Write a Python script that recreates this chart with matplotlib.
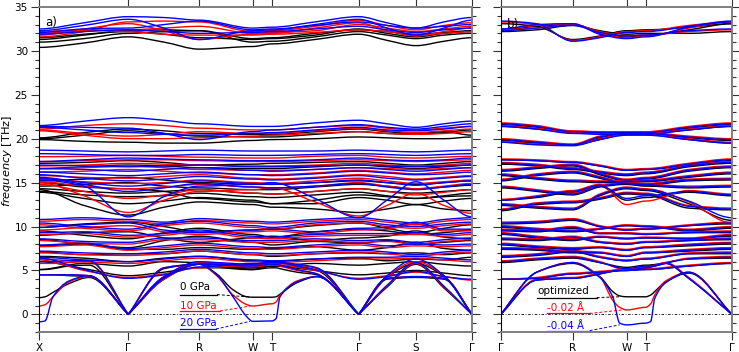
import numpy as np
import matplotlib
matplotlib.use('Agg')
import matplotlib.pyplot as plt
from matplotlib.path import Path
from matplotlib.patches import PathPatch
from matplotlib.ticker import MultipleLocator

# ---------------- panel a: X-G-R-W-T-G-S-G ----------------
kA = [0, 45, 89.3, 125, 160.3, 213.7, 233, 276, 319.7, 348, 377, 405, 433]
symA = [1, 0, 1, 0, 1, 1, 1, 0, 1, 0, 1, 0, 1]
labelsA = ['X', 'Γ', 'R', 'W', 'T', 'Γ', 'S', 'Γ']

a_black = [
    [30.4, 30.9, 31.6, 31.0, 30.2, 30.5, 30.8, 31.3, 31.9, 31.2, 30.6, 31.1, 31.5],
    [31.0, 31.4, 32.0, 32.2, 32.3, 31.0, 31.1, 31.6, 32.2, 31.8, 31.4, 31.8, 32.0],
    [31.3, 31.8, 32.3, 32.4, 32.3, 31.4, 31.5, 32.0, 32.4, 32.2, 31.9, 32.1, 32.3],
    [31.5, 31.9, 32.2, 31.9, 31.5, 31.3, 31.4, 31.8, 32.5, 32.0, 31.6, 32.0, 32.2],
    [20.0, 20.4, 20.9, 20.6, 20.3, 20.2, 20.2, 20.5, 20.8, 20.6, 20.5, 20.7, 21.0],
    [19.9, 19.7, 19.6, 19.5, 19.5, 19.8, 19.9, 20.0, 20.2, 20.1, 20.0, 20.0, 20.2],
    [20.1, 20.7, 21.1, 20.9, 20.6, 20.5, 20.5, 20.8, 21.1, 20.8, 20.6, 20.8, 20.4],
    [17.2, 17.3, 17.5, 17.3, 17.0, 17.1, 17.2, 17.3, 17.4, 17.2, 17.0, 17.2, 17.4],
    [16.6, 16.8, 17.0, 16.9, 16.7, 16.6, 16.6, 16.8, 17.0, 16.8, 16.6, 16.8, 17.0],
    [15.2, 15.4, 15.6, 15.3, 15.0, 14.8, 14.8, 15.0, 15.2, 15.0, 14.8, 15.0, 15.2],
    [14.6, 14.8, 15.0, 14.6, 14.4, 14.2, 14.2, 14.5, 14.8, 14.6, 14.3, 14.5, 14.7],
    [14.3, 14.0, 13.8, 14.0, 14.2, 13.8, 13.7, 14.0, 14.3, 14.0, 13.8, 14.0, 14.2],
    [14.0, 13.6, 13.4, 13.5, 13.8, 13.4, 13.3, 13.6, 13.9, 13.5, 13.2, 13.5, 13.8],
    [13.9, 13.2, 12.6, 12.9, 13.3, 13.0, 12.6, 12.6, 13.3, 13.0, 12.5, 12.9, 13.2],
    [14.2, 12.4, 11.3, 12.2, 12.8, 12.5, 12.2, 12.0, 11.6, 12.0, 12.5, 12.0, 11.8],
    [15.0, 14.5, 14.3, 14.0, 13.2, 12.8, 12.6, 13.0, 13.6, 13.4, 13.2, 13.4, 13.5],
    [9.9, 10.3, 10.5, 10.0, 9.4, 9.6, 9.7, 10.1, 10.4, 9.8, 9.3, 9.8, 10.2],
    [9.5, 9.0, 8.6, 9.3, 9.8, 9.1, 8.8, 9.4, 9.7, 9.5, 9.1, 9.3, 9.6],
    [9.0, 9.3, 9.4, 8.7, 8.2, 8.7, 8.9, 8.4, 8.7, 8.9, 9.5, 8.8, 8.6],
    [8.5, 8.0, 7.6, 8.4, 8.9, 8.2, 7.9, 8.3, 8.1, 8.4, 8.0, 8.2, 8.4],
    [7.8, 8.0, 7.4, 7.4, 7.6, 7.4, 7.5, 7.7, 7.3, 7.6, 8.2, 7.5, 7.3],
    [7.1, 6.8, 6.9, 6.9, 7.2, 6.8, 6.6, 6.9, 7.0, 6.9, 7.0, 6.8, 7.0],
    [6.6, 6.4, 6.0, 6.4, 6.6, 6.1, 6.0, 6.3, 6.4, 6.1, 6.3, 6.2, 6.5],
    [5.1, 5.8, 5.5, 6.0, 5.9, 5.1, 5.5, 5.8, 5.6, 5.8, 6.0, 5.7, 5.5],
    [6.0, 5.2, 4.4, 4.8, 5.3, 5.3, 5.5, 5.0, 4.5, 4.7, 5.0, 4.7, 4.4],
]
a_red = [
    [31.6, 32.2, 33.3, 33.4, 33.3, 32.2, 32.3, 32.8, 33.5, 32.9, 32.4, 32.9, 33.2],
    [31.8, 32.5, 33.1, 32.3, 31.3, 31.9, 32.0, 32.6, 33.2, 32.3, 31.7, 32.2, 32.6],
    [32.0, 32.3, 32.4, 32.6, 32.8, 32.0, 32.1, 32.3, 33.0, 32.6, 32.2, 32.5, 32.8],
    [32.2, 32.4, 32.2, 31.9, 31.8, 31.8, 31.9, 32.1, 32.4, 32.2, 31.8, 32.0, 32.2],
    [21.1, 21.5, 21.7, 21.5, 21.2, 21.0, 21.0, 21.3, 21.5, 21.2, 21.0, 21.2, 21.4],
    [21.0, 20.6, 20.3, 20.5, 20.8, 20.6, 20.6, 20.9, 21.2, 20.9, 20.7, 20.9, 21.1],
    [20.9, 20.4, 20.0, 20.0, 20.1, 20.3, 20.4, 20.6, 20.8, 20.6, 20.5, 20.6, 20.8],
    [17.95, 18.0, 18.1, 18.0, 17.9, 17.8, 17.8, 18.0, 18.1, 17.9, 17.8, 17.9, 18.0],
    [17.4, 17.5, 17.6, 17.6, 17.5, 17.4, 17.4, 17.5, 17.6, 17.5, 17.4, 17.5, 17.6],
    [16.9, 17.0, 17.2, 17.1, 17.0, 16.9, 16.9, 17.0, 17.2, 17.0, 16.9, 17.0, 17.2],
    [16.6, 16.7, 16.9, 16.7, 16.5, 16.4, 16.4, 16.5, 16.7, 16.6, 16.5, 16.6, 16.7],
    [16.2, 16.3, 16.5, 16.3, 16.1, 15.9, 15.9, 16.1, 16.4, 16.2, 16.0, 16.2, 16.4],
    [15.8, 15.6, 15.5, 15.7, 15.9, 15.5, 15.4, 15.6, 15.9, 15.7, 15.4, 15.6, 15.8],
    [15.4, 15.1, 14.9, 15.0, 15.3, 15.0, 14.9, 15.2, 15.5, 15.2, 14.9, 15.1, 15.3],
    [15.1, 14.6, 14.3, 14.5, 14.8, 14.5, 14.4, 14.6, 15.0, 14.6, 14.3, 14.6, 14.9],
    [15.0, 13.5, 11.6, 13.0, 14.0, 14.2, 14.4, 12.8, 11.2, 12.4, 13.8, 12.4, 11.5],
    [14.8, 14.0, 13.2, 13.6, 14.2, 13.8, 13.7, 14.0, 14.3, 14.0, 13.6, 13.9, 14.2],
    [10.6, 10.8, 10.6, 10.3, 10.7, 10.4, 10.3, 10.6, 10.8, 10.5, 10.2, 10.6, 10.8],
    [10.2, 9.8, 9.5, 10.1, 10.4, 9.9, 9.7, 10.2, 10.4, 10.0, 9.8, 10.1, 10.3],
    [9.6, 9.9, 10.1, 9.4, 9.1, 9.4, 9.5, 9.2, 9.6, 9.7, 10.3, 9.5, 9.5],
    [9.1, 9.2, 8.8, 9.0, 9.4, 8.7, 8.6, 8.9, 9.0, 9.0, 9.1, 8.9, 9.1],
    [8.4, 8.1, 8.0, 8.5, 8.5, 8.2, 8.2, 8.4, 8.2, 8.3, 8.0, 8.3, 8.5],
    [7.7, 7.9, 7.3, 7.6, 7.9, 7.5, 7.4, 7.7, 7.9, 7.6, 7.8, 7.7, 7.8],
    [7.0, 6.8, 6.7, 6.9, 7.2, 6.8, 6.7, 6.9, 7.1, 6.9, 6.6, 6.9, 7.1],
    [6.3, 6.0, 5.8, 6.1, 6.4, 6.0, 5.9, 6.1, 6.3, 6.3, 6.4, 6.2, 6.0],
    [6.2, 5.0, 4.2, 4.6, 5.3, 5.6, 5.7, 5.0, 4.1, 4.4, 4.8, 4.3, 3.9],
]
a_blue = [
    [32.5, 33.2, 33.9, 33.8, 33.5, 32.6, 32.7, 33.3, 33.9, 33.2, 32.6, 33.3, 33.8],
    [32.3, 32.9, 33.6, 32.6, 31.3, 32.3, 32.4, 33.0, 33.6, 32.6, 31.8, 32.6, 33.5],
    [32.1, 32.5, 32.6, 33.0, 33.4, 32.4, 32.5, 32.9, 33.3, 32.9, 32.6, 32.8, 33.0],
    [31.9, 32.2, 32.4, 32.2, 32.0, 32.1, 32.2, 32.5, 32.8, 32.4, 32.1, 32.4, 32.6],
    [21.5, 22.0, 22.4, 22.1, 21.7, 21.4, 21.4, 21.8, 22.1, 21.7, 21.3, 21.7, 22.0],
    [21.4, 21.3, 21.2, 20.6, 19.9, 20.8, 21.0, 21.3, 21.6, 21.3, 21.1, 21.4, 21.7],
    [21.3, 21.0, 20.7, 20.5, 20.4, 20.6, 20.7, 21.0, 21.3, 21.0, 20.9, 21.1, 21.4],
    [18.7, 18.6, 18.5, 18.6, 18.7, 18.6, 18.6, 18.6, 18.7, 18.6, 18.5, 18.6, 18.7],
    [18.3, 18.2, 18.1, 18.1, 18.2, 18.1, 18.1, 18.2, 18.3, 18.2, 18.1, 18.2, 18.3],
    [17.4, 17.6, 17.8, 17.7, 17.6, 17.5, 17.5, 17.6, 17.8, 17.6, 17.5, 17.6, 17.8],
    [17.0, 16.9, 16.8, 16.9, 17.0, 16.8, 16.8, 16.9, 17.0, 16.9, 16.8, 16.9, 17.0],
    [16.6, 16.5, 16.3, 16.5, 16.7, 16.4, 16.3, 16.5, 16.7, 16.5, 16.3, 16.5, 16.7],
    [16.2, 16.0, 15.8, 16.0, 16.2, 15.9, 15.8, 16.0, 16.3, 16.1, 15.9, 16.0, 16.2],
    [15.9, 15.5, 15.2, 15.4, 15.7, 15.4, 15.3, 15.5, 15.8, 15.5, 15.3, 15.5, 15.7],
    [15.6, 15.0, 14.6, 14.9, 15.2, 14.9, 14.8, 15.0, 15.3, 15.0, 14.7, 15.0, 15.2],
    [15.3, 14.6, 11.1, 13.4, 14.6, 14.8, 15.0, 13.2, 11.0, 13.0, 15.1, 13.0, 11.1],
    [15.5, 14.8, 14.0, 14.4, 14.9, 14.5, 14.4, 14.6, 14.9, 14.5, 14.2, 14.5, 14.8],
    [10.8, 11.0, 10.8, 10.5, 10.9, 10.6, 10.5, 10.8, 11.0, 10.7, 10.4, 10.8, 11.0],
    [10.4, 10.0, 9.7, 10.3, 10.6, 10.1, 9.9, 10.4, 10.6, 10.2, 10.0, 10.3, 10.5],
    [9.9, 10.2, 10.4, 9.6, 9.3, 9.6, 9.7, 9.4, 9.8, 9.9, 10.5, 9.7, 9.7],
    [9.3, 9.4, 9.0, 9.2, 9.6, 8.9, 8.8, 9.1, 9.2, 9.2, 9.3, 9.1, 9.3],
    [8.6, 8.3, 8.2, 8.7, 8.7, 8.4, 8.4, 8.6, 8.4, 8.5, 8.2, 8.5, 8.7],
    [7.9, 8.1, 7.5, 7.8, 8.1, 7.7, 7.6, 7.9, 8.1, 7.8, 8.0, 7.9, 8.0],
    [7.2, 7.0, 6.9, 7.1, 7.4, 7.0, 6.9, 7.1, 7.3, 7.1, 6.8, 7.1, 7.3],
    [6.5, 6.2, 6.0, 6.3, 6.6, 6.2, 6.1, 6.3, 6.5, 6.5, 6.6, 6.4, 6.2],
    [6.4, 5.1, 4.1, 4.5, 5.4, 5.8, 5.9, 5.1, 4.0, 4.3, 4.9, 4.3, 4.0],
]

# low branches of panel a on a finer k grid
kA_low = [0, 6, 14, 30, 50, 89.3, 125, 160.3, 177.7, 194, 208, 213.7, 233, 237,
          241, 258, 278, 319.7, 348, 377, 405, 433]
symA_low = [1, 0, 0, 0, 0, 1, 0, 1, 0, 0, 0, 1, 1, 0, 0, 0, 0, 1, 0, 1, 0, 1]
a_black_low = [
    [1.9, 2.0, 2.5, 3.5, 4.2, 0, 5.2, 5.7, 4.6, 2.8, 2.0, 1.95, 1.95, 2.0, 2.3, 3.6, 4.3, 0, 3.1, 5.7, 3.0, 0],
    [4.5, 4.5, 4.5, 4.4, 4.3, 0, 4.0, 5.7, 5.4, 5.2, 5.1, 5.1, 5.3, 5.3, 5.2, 4.8, 4.5, 0, 4.0, 4.2, 4.0, 0],
    [5.1, 5.1, 5.2, 5.5, 5.6, 0, 4.2, 5.8, 5.6, 5.4, 5.3, 5.3, 5.5, 5.5, 5.5, 5.4, 5.0, 0, 4.2, 5.8, 4.3, 0],
]
a_red_low = [
    [0.95, 1.1, 2.0, 3.7, 4.3, 0, 5.3, 5.7, 4.4, 2.2, 1.1, 0.95, 1.2, 1.4, 2.2, 3.8, 4.3, 0, 3.2, 5.8, 3.1, 0],
    [4.5, 4.5, 4.5, 4.5, 4.4, 0, 4.0, 5.7, 5.6, 5.5, 5.4, 5.4, 5.6, 5.6, 5.5, 5.0, 4.6, 0, 4.1, 4.3, 4.1, 0],
    [5.8, 5.8, 5.8, 5.9, 6.0, 0, 4.3, 5.9, 5.8, 5.7, 5.6, 5.6, 5.8, 5.8, 5.8, 5.6, 5.2, 0, 4.3, 6.0, 4.4, 0],
]
a_blue_low = [
    [-0.85, -0.75, 2.0, 3.8, 4.4, 0, 5.3, 5.7, 4.5, 2.0, -0.3, -0.8, -0.75, -0.5, 2.0, 3.7, 4.3, 0, 3.3, 5.9, 3.2, 0],
    [4.5, 4.5, 4.5, 4.5, 4.4, 0, 4.1, 5.7, 5.7, 5.6, 5.5, 5.5, 5.7, 5.7, 5.6, 5.1, 4.6, 0, 4.1, 4.3, 4.1, 0],
    [6.0, 6.0, 6.0, 6.1, 6.1, 0, 4.3, 6.0, 5.9, 5.8, 5.7, 5.7, 5.9, 5.9, 5.9, 5.7, 5.3, 0, 4.4, 6.3, 4.4, 0],
]

# ---------------- panel b: G-R-W-T-G ----------------
kB = [0, 36, 72, 99, 126, 145, 188, 231.3]
symB = [1, 0, 1, 0, 1, 1, 0, 1]
labelsB = ['Γ', 'R', 'W', 'T', 'Γ']

b_black = [
    [33.1, 32.8, 31.3, 31.7, 32.3, 32.4, 32.7, 33.1],
    [32.4, 32.8, 33.0, 32.2, 31.6, 31.8, 32.4, 33.1],
    [32.2, 32.4, 32.9, 32.3, 31.9, 32.0, 32.0, 32.2],
    [21.6, 21.3, 20.8, 20.7, 20.7, 20.7, 21.2, 21.6],
    [21.4, 21.1, 20.7, 20.6, 20.6, 20.6, 21.0, 21.4],
    [19.8, 19.5, 19.3, 20.1, 20.6, 20.6, 20.1, 19.8],
    [19.6, 19.4, 19.3, 19.9, 20.5, 20.5, 19.9, 19.5],
    [17.6, 17.5, 17.3, 16.9, 16.4, 16.5, 17.0, 17.5],
    [17.1, 16.9, 16.5, 16.1, 15.8, 16.0, 16.8, 17.2],
    [16.3, 16.6, 16.9, 15.9, 15.2, 15.4, 16.3, 16.7],
    [15.8, 15.4, 15.1, 15.0, 15.0, 15.1, 15.6, 16.0],
    [15.2, 15.8, 16.1, 15.5, 14.8, 14.7, 15.2, 15.3],
    [14.4, 14.0, 13.6, 14.5, 14.8, 14.6, 14.4, 14.5],
    [13.0, 13.3, 13.9, 14.6, 13.0, 13.3, 13.9, 13.5],
    [12.4, 12.1, 11.9, 13.5, 14.3, 14.1, 12.6, 10.7],
    [11.8, 12.5, 12.7, 13.1, 13.7, 13.6, 12.1, 11.9],
    [10.3, 10.4, 10.7, 10.0, 9.6, 9.7, 10.1, 10.3],
    [9.9, 9.6, 9.4, 9.7, 10.1, 10.0, 9.5, 9.8],
    [9.5, 9.4, 9.8, 9.2, 9.2, 9.1, 9.3, 9.3],
    [9.1, 8.7, 8.4, 8.8, 8.6, 8.7, 8.6, 8.9],
    [8.5, 8.4, 8.7, 8.2, 8.0, 8.2, 8.4, 8.5],
    [7.9, 7.6, 7.4, 7.6, 7.3, 7.6, 7.8, 8.0],
    [7.4, 7.3, 7.0, 7.0, 6.6, 7.0, 7.2, 7.4],
    [6.5, 6.7, 7.1, 6.5, 6.1, 6.3, 6.9, 6.9],
    [5.9, 6.2, 6.4, 5.9, 5.35, 5.6, 6.3, 6.4],
    [4.0, 4.1, 4.6, 4.8, 5.0, 5.1, 5.5, 5.8],
]
b_red = [
    [33.3, 33.0, 31.2, 31.6, 32.2, 32.3, 32.9, 33.3],
    [32.5, 32.9, 33.1, 32.0, 31.5, 31.7, 32.6, 33.3],
    [32.4, 32.6, 33.0, 32.2, 31.7, 31.8, 32.2, 32.4],
    [21.8, 21.5, 20.9, 20.8, 20.8, 20.8, 21.4, 21.8],
    [21.5, 21.2, 20.7, 20.6, 20.6, 20.6, 21.1, 21.5],
    [20.0, 19.7, 19.4, 20.3, 20.7, 20.7, 20.3, 20.0],
    [19.7, 19.4, 19.3, 20.0, 20.5, 20.5, 20.0, 19.6],
    [17.7, 17.6, 17.4, 17.0, 16.5, 16.6, 17.2, 17.7],
    [17.3, 17.1, 16.7, 16.3, 16.0, 16.2, 17.0, 17.4],
    [16.5, 16.8, 17.1, 16.1, 15.4, 15.6, 16.5, 16.9],
    [16.0, 15.6, 15.3, 15.2, 15.2, 15.3, 15.8, 16.2],
    [15.4, 16.0, 16.3, 15.7, 15.0, 14.9, 15.4, 15.5],
    [14.6, 14.2, 13.8, 14.7, 15.0, 14.8, 14.6, 14.7],
    [13.1, 13.5, 14.1, 14.8, 12.5, 12.9, 14.1, 13.7],
    [12.6, 12.3, 12.1, 13.7, 14.5, 14.3, 12.8, 10.4],
    [12.0, 12.7, 12.9, 13.3, 13.9, 13.8, 12.4, 12.1],
    [10.5, 10.6, 10.9, 10.1, 9.7, 9.8, 10.2, 10.5],
    [10.1, 9.8, 9.6, 9.8, 10.2, 10.1, 9.7, 10.0],
    [9.7, 9.6, 10.0, 9.3, 9.3, 9.2, 9.4, 9.5],
    [9.3, 8.9, 8.6, 8.9, 8.7, 8.8, 8.7, 9.1],
    [8.7, 8.6, 8.9, 8.3, 8.1, 8.3, 8.5, 8.7],
    [8.1, 7.8, 7.6, 7.7, 7.4, 7.7, 8.0, 8.2],
    [7.6, 7.5, 7.2, 7.1, 6.7, 7.1, 7.4, 7.6],
    [6.7, 6.9, 7.3, 6.6, 6.2, 6.4, 7.0, 7.1],
    [6.1, 6.4, 6.6, 6.0, 5.05, 5.4, 6.4, 6.6],
    [4.0, 4.2, 4.7, 4.9, 5.1, 5.2, 5.6, 5.9],
]
b_blue = [
    [33.4, 33.1, 31.1, 31.5, 32.1, 32.2, 32.8, 33.4],
    [32.5, 33.0, 33.1, 31.9, 31.4, 31.6, 32.7, 33.3],
    [32.3, 32.6, 32.9, 32.1, 31.7, 31.8, 32.3, 32.5],
    [21.7, 21.4, 20.8, 20.7, 20.7, 20.7, 21.3, 21.7],
    [21.4, 21.1, 20.6, 20.5, 20.5, 20.5, 21.0, 21.4],
    [19.9, 19.6, 19.3, 20.2, 20.6, 20.6, 20.2, 19.9],
    [19.6, 19.3, 19.2, 19.9, 20.4, 20.4, 19.9, 19.5],
    [17.6, 17.5, 17.3, 16.9, 16.4, 16.5, 17.1, 17.6],
    [17.2, 17.0, 16.6, 16.2, 15.9, 16.1, 16.9, 17.3],
    [16.4, 16.7, 17.0, 16.0, 15.3, 15.5, 16.4, 16.8],
    [15.9, 15.5, 15.2, 15.1, 15.1, 15.2, 15.7, 16.1],
    [15.3, 15.9, 16.2, 15.6, 14.9, 14.8, 15.3, 15.4],
    [14.5, 14.1, 13.7, 14.6, 14.9, 14.7, 14.5, 14.6],
    [13.0, 13.4, 14.0, 14.7, 13.2, 13.5, 14.0, 13.6],
    [12.5, 12.2, 12.0, 13.6, 14.4, 14.2, 12.9, 11.0],
    [11.9, 12.6, 12.8, 13.2, 13.8, 13.7, 12.3, 12.0],
    [10.4, 10.5, 10.8, 10.0, 9.6, 9.7, 10.1, 10.4],
    [10.0, 9.7, 9.5, 9.7, 10.1, 10.0, 9.6, 9.9],
    [9.6, 9.5, 9.9, 9.2, 9.2, 9.1, 9.3, 9.4],
    [9.2, 8.8, 8.5, 8.8, 8.6, 8.7, 8.6, 9.0],
    [8.6, 8.5, 8.8, 8.2, 8.0, 8.2, 8.4, 8.6],
    [8.0, 7.7, 7.5, 7.6, 7.3, 7.6, 7.9, 8.1],
    [7.5, 7.4, 7.1, 7.0, 6.6, 7.0, 7.3, 7.5],
    [6.6, 6.8, 7.2, 6.5, 6.1, 6.3, 6.9, 7.0],
    [6.0, 6.3, 6.5, 5.9, 5.2, 5.5, 6.3, 6.5],
    [4.0, 4.1, 4.6, 4.8, 5.0, 5.1, 5.5, 5.8],
]

kB_low = [0, 36, 72, 99, 112, 119, 126, 145, 150, 154, 165, 188, 231.3]
symB_low = [1, 0, 1, 0, 0, 0, 1, 1, 0, 0, 0, 0, 1]
b_black_low = [
    [0, 4.8, 5.8, 4.3, 2.6, 2.1, 2.0, 2.0, 2.2, 2.6, 3.7, 4.7, 0],
    [0, 3.9, 4.1, 4.6, 4.9, 5.0, 5.0, 5.3, 5.4, 5.5, 5.8, 4.1, 0],
]
b_red_low = [
    [0, 4.8, 5.9, 4.3, 1.6, 0.8, 0.5, 0.8, 1.2, 2.2, 3.8, 4.8, 0],
    [0, 4.0, 4.2, 4.7, 5.0, 5.1, 5.1, 5.4, 5.5, 5.6, 5.9, 4.2, 0],
]
b_blue_low = [
    [0, 4.8, 5.9, 4.2, 2.0, -1.0, -1.2, -1.0, -0.8, 1.8, 3.6, 4.8, 0],
    [0, 3.9, 4.1, 4.6, 4.9, 5.0, 5.0, 5.3, 5.4, 5.5, 5.8, 4.1, 0],
]


def band_patch(k, f, sym, color):
    # smooth band: flat at zone-boundary points, straight into Gamma for acoustic branches
    k = np.asarray(k, float)
    f = np.asarray(f, float)
    d = np.diff(f) / np.diff(k)
    n = len(k)
    mL = np.zeros(n)
    mR = np.zeros(n)
    for i in range(n):
        if sym[i]:
            if f[i] == 0:
                if i > 0:
                    mL[i] = d[i - 1]
                if i < n - 1:
                    mR[i] = d[i]
        else:
            a, b = d[i - 1], d[i]
            if a * b > 0:
                mL[i] = mR[i] = 2 * a * b / (a + b)
    verts = [(k[0], f[0])]
    codes = [Path.MOVETO]
    for i in range(n - 1):
        h = k[i + 1] - k[i]
        verts += [(k[i] + h / 3, f[i] + mR[i] * h / 3),
                  (k[i + 1] - h / 3, f[i + 1] - mL[i + 1] * h / 3),
                  (k[i + 1], f[i + 1])]
        codes += [Path.CURVE4] * 3
    return PathPatch(Path(verts, codes), fill=False, edgecolor=color, lw=1.0,
                     capstyle='round', joinstyle='round')


def draw_panel(ax, k, sym, k_low, sym_low, sets):
    for color, bands, lows in sets:
        for f in bands:
            ax.add_patch(band_patch(k, f, sym, color))
        for f in lows:
            ax.add_patch(band_patch(k_low, f, sym_low, color))


def style_axis(ax, k, sym, labels, left_labels):
    ticks = [kk for kk, s in zip(k, sym) if s]
    ax.set_xlim(k[0], k[-1])
    ax.set_ylim(-2, 35)
    ax.set_xticks(ticks)
    ax.set_xticklabels(labels)
    ax.set_yticks(range(0, 36, 5))
    ax.yaxis.set_minor_locator(MultipleLocator(1))
    ax.tick_params(which='both', direction='out', top=True, right=True,
                   labelsize=7.5, width=0.8, color='#333333', pad=2)
    ax.tick_params(which='major', length=6)
    ax.tick_params(which='minor', length=3)
    if not left_labels:
        ax.set_yticklabels([])
    for side in ['top', 'bottom', 'right']:
        ax.spines[side].set_color('#7f7f7f')
        ax.spines[side].set_linewidth(1.4)
    ax.spines['left'].set_color('black')
    ax.spines['left'].set_linewidth(0.8)
    ax.axhline(0, color='black', lw=0.6, ls=(0, (3, 2, 1, 2)), zorder=0.5)


fig = plt.figure(figsize=(7.39, 3.52), dpi=100)
bottom = 20.1 / 352
height = 324.9 / 352
axA = fig.add_axes([39 / 739, bottom, 433 / 739, height])
axB = fig.add_axes([500.7 / 739, bottom, 231.3 / 739, height])

draw_panel(axA, kA, symA, kA_low, symA_low,
           [('black', a_black, a_black_low), ('red', a_red, a_red_low), ('blue', a_blue, a_blue_low)])
draw_panel(axB, kB, symB, kB_low, symB_low,
           [('black', b_black, b_black_low), ('red', b_red, b_red_low), ('blue', b_blue, b_blue_low)])

style_axis(axA, kA, symA, labelsA, True)
style_axis(axB, kB, symB, labelsB, False)

axA.text(6, 33.2, 'a)', fontsize=8.5, va='center')
axB.text(6, 33.0, 'b)', fontsize=8.5, va='center')
fig.text(7 / 739, 1 - 161 / 352, r'$\it{frequency}$ [THz]', rotation=90,
         fontsize=8.2, ha='center', va='center')


def pointer(ax, txt, color, xt, yt, x_end, y_line, x_tip, y_tip):
    ax.text(xt, yt, txt, color=color, fontsize=7.5, ha='left', va='center')
    ax.plot([xt, x_end], [y_line, y_line], color=color, lw=0.9)
    ax.plot([x_end, x_tip], [y_line, y_tip], color=color, lw=0.7, ls=(0, (3, 2)))


pointer(axA, '0 GPa', 'black', 141, 3.1, 178, 2.25, 211, 1.97)
pointer(axA, '10 GPa', 'red', 141, 0.95, 181, 0.38, 211, 0.95)
pointer(axA, '20 GPa', 'blue', 141, -0.93, 177, -1.67, 211, -0.8)
pointer(axB, 'optimized', 'black', 36.6, 2.7, 96, 1.9, 119, 2.0)
pointer(axB, '-0.02 Å', 'red', 46, 0.68, 89, 0.1, 122, 0.5)
pointer(axB, '-0.04 Å', 'blue', 46, -1.33, 89, -1.85, 119, -1.2)

fig.savefig('out.png', dpi=100)
